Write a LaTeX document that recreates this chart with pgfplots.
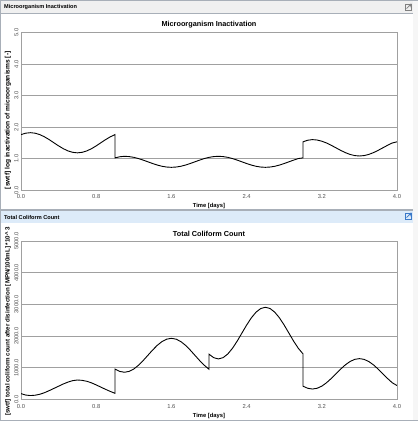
\documentclass[border=0pt]{standalone}
\usepackage{pgfplots}
\pgfplotsset{compat=1.18}
\usepackage{fontspec}
\setmainfont{Liberation Sans}
\definecolor{framec}{HTML}{A8AFB8}
\definecolor{hdrgray}{HTML}{F0F0F0}
\definecolor{hdrblue}{HTML}{DDEBF9}
\definecolor{gridc}{HTML}{A0A0A0}
\definecolor{tickc}{HTML}{505050}
\definecolor{iconblue}{HTML}{3A78C8}
\pgfplotsset{panel/.style={
  scale only axis, width=376pt, anchor=south west,
  xmin=0, xmax=4, ymin=0,
  xtick={0,0.8,1.6,2.4,3.2,4.0},
  scaled ticks=false,
  axis line style={gridc, line width=0.8pt},
  major tick length=0pt,
  ymajorgrids, grid style={gridc, line width=0.8pt},
  /pgf/number format/assume math mode=true,
  tick label style={font=\fontsize{5.8}{6.5}\selectfont, text=tickc},
  xticklabel={\pgfmathprintnumber[fixed,fixed zerofill,precision=1]{\tick}},
  yticklabel={\pgfmathprintnumber[fixed,fixed zerofill,precision=1,1000 sep={}]{\tick}},
  xticklabel style={anchor=north, inner sep=0pt, outer sep=0pt, yshift=-4.5pt},
  yticklabel style={rotate=90, anchor=south, inner sep=0pt, outer sep=2.5pt},
  every axis title/.style={at={(axis description cs:0.5,1)}, anchor=center, yshift=7.5pt, font=\bfseries\fontsize{7.3}{8}\selectfont},
  every axis x label/.style={at={(axis description cs:0.5,0)}, anchor=center, yshift=-16pt, font=\bfseries\fontsize{5.8}{6.5}\selectfont},
  xlabel={Time [days]},
}}
\begin{document}
\begin{tikzpicture}
% frame and headers
\useasboundingbox (0pt,0pt) rectangle (418pt,-421pt);
\fill[framec] (0pt,0pt) rectangle (418pt,-421pt);
\fill[white] (1pt,-1pt) rectangle (413pt,-420pt);
\fill[hdrgray!60!white] (413pt,-1pt) rectangle (418pt,-420pt);
\fill[hdrgray] (1pt,-1pt) rectangle (413pt,-13pt);
\draw[framec, line width=0.6pt] (1pt,-13pt) -- (413pt,-13pt);
\node[anchor=west, inner sep=0pt, font=\bfseries\fontsize{5.6}{6.5}\selectfont] at (4pt,-7pt) {Microorganism Inactivation};
\fill[framec] (1pt,-209pt) rectangle (413pt,-211pt);
\fill[hdrblue] (1pt,-211pt) rectangle (413pt,-223pt);
\node[anchor=west, inner sep=0pt, font=\bfseries\fontsize{5.6}{6.5}\selectfont] at (4pt,-217pt) {Total Coliform Count};
% expand icons
\draw[gray, line width=0.6pt] (405pt,-4pt) rectangle (411pt,-10pt);
\draw[gray, line width=0.7pt, -stealth] (406.5pt,-8.5pt) -- (411.5pt,-3.5pt);
\draw[iconblue, line width=0.6pt] (405pt,-213pt) rectangle (411pt,-219pt);
\draw[iconblue, line width=0.7pt, -stealth] (406.5pt,-217.5pt) -- (411.5pt,-212.5pt);

\begin{axis}[panel, at={(21pt,-190pt)}, height=157.5pt,
  ymax=5, ytick={0,1,2,3,4,5},
  title={Microorganism Inactivation},
  every axis y label/.style={at={([xshift=-13pt,yshift=-9pt]axis description cs:0,0.5)}, rotate=90, anchor=center, font=\bfseries\fontsize{6.6}{7}\selectfont},
  ylabel={[swtf] log inactivation of microorganisms [-]}]
\addplot[black, line width=0.9pt] coordinates {
(0,1.759)(0.05,1.804)(0.1,1.82)(0.15,1.804)(0.2,1.759)(0.25,1.688)(0.3,1.599)(0.35,1.5)(0.4,1.401)(0.45,1.312)(0.5,1.241)(0.55,1.196)(0.6,1.18)(0.65,1.196)(0.7,1.241)(0.75,1.312)(0.8,1.401)(0.85,1.5)(0.9,1.599)(0.95,1.688)(1.0,1.759)
(1.0,1.02)(1.05,1.055)(1.1,1.07)(1.15,1.061)(1.2,1.037)(1.25,0.998)(1.3,0.949)(1.35,0.895)(1.4,0.841)(1.45,0.792)(1.5,0.753)(1.55,0.729)(1.6,0.72)(1.65,0.729)(1.7,0.753)(1.75,0.792)(1.8,0.841)(1.85,0.895)(1.9,0.949)(1.95,0.998)(2.0,1.037)(2.05,1.061)(2.1,1.07)(2.15,1.061)(2.2,1.037)(2.25,0.998)(2.3,0.949)(2.35,0.895)(2.4,0.841)(2.45,0.792)(2.5,0.753)(2.55,0.729)(2.6,0.72)(2.65,0.729)(2.7,0.753)(2.75,0.792)(2.8,0.841)(2.85,0.895)(2.9,0.949)(2.95,0.998)(3.0,1.02)
(3.0,1.53)(3.05,1.58)(3.1,1.6)(3.15,1.587)(3.2,1.55)(3.25,1.493)(3.3,1.42)(3.35,1.34)(3.4,1.26)(3.45,1.187)(3.5,1.13)(3.55,1.093)(3.6,1.08)(3.65,1.093)(3.7,1.13)(3.75,1.187)(3.8,1.26)(3.85,1.34)(3.9,1.42)(3.95,1.493)(4.0,1.53)
};
\end{axis}

\begin{axis}[panel, at={(21pt,-399.5pt)}, height=158.5pt,
  ymax=5000, ytick={0,1000,2000,3000,4000,5000},
  every axis title/.append style={yshift=-0.5pt},
  title={Total Coliform Count},
  every axis y label/.style={at={([xshift=-13pt,yshift=-1pt]axis description cs:0,0.5)}, rotate=90, anchor=center, font=\bfseries\fontsize{6.2}{7}\selectfont},
  ylabel={[swtf] total coliform count after disinfection [MPN/100mL] *10\textasciicircum\ 3}]
\addplot[black, line width=0.9pt] coordinates {
(0,185)(0.05,140)(0.1,125)(0.15,135)(0.2,165)(0.25,215)(0.3,280)(0.35,350)(0.4,420)(0.45,490)(0.5,550)(0.55,595)(0.6,615)(0.65,605)(0.7,575)(0.75,525)(0.8,460)(0.85,390)(0.9,320)(0.95,255)(1.0,195)
(1.0,960)(1.05,886)(1.1,860)(1.15,886)(1.2,962)(1.25,1080)(1.3,1230)(1.35,1395)(1.4,1560)(1.45,1710)(1.5,1828)(1.55,1904)(1.6,1930)(1.65,1904)(1.7,1828)(1.75,1710)(1.8,1560)(1.85,1395)(1.9,1230)(1.95,1080)(2.0,955)
(2.0,1430)(2.05,1320)(2.1,1280)(2.15,1320)(2.2,1436)(2.25,1616)(2.3,1843)(2.35,2095)(2.4,2347)(2.45,2574)(2.5,2754)(2.55,2870)(2.6,2910)(2.65,2870)(2.7,2754)(2.75,2574)(2.8,2347)(2.85,2095)(2.9,1843)(2.95,1616)(3.0,1440)
(3.0,420)(3.05,354)(3.1,330)(3.15,354)(3.2,422)(3.25,528)(3.3,662)(3.35,810)(3.4,958)(3.45,1092)(3.5,1198)(3.55,1266)(3.6,1290)(3.65,1266)(3.7,1198)(3.75,1092)(3.8,958)(3.85,810)(3.9,662)(3.95,528)(4.0,440)
};
\end{axis}
\end{tikzpicture}
\end{document}
